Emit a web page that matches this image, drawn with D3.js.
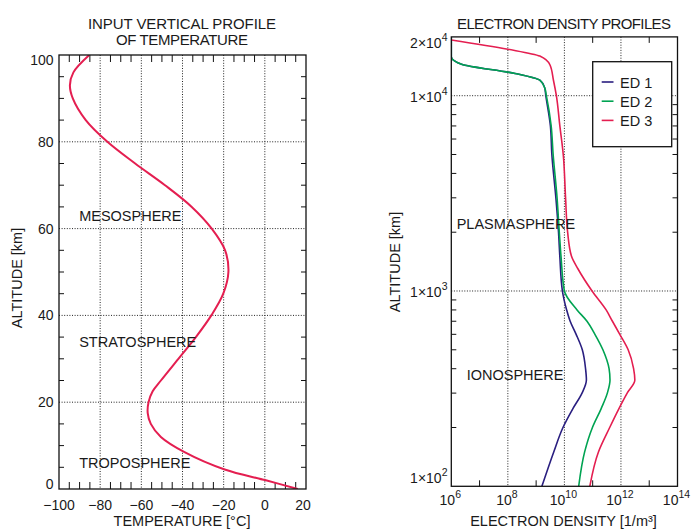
<!DOCTYPE html>
<html><head><meta charset="utf-8">
<script src="https://cdn.jsdelivr.net/npm/d3@7"></script>
<style>
body{margin:0;background:#fff}
text{font-family:"Liberation Sans",Arial,sans-serif;fill:#1a1a1a}
</style>
</head><body>
<svg id="c" width="693" height="529"></svg>
<script>
// ---------- DATA ----------
// Left panel: temperature profile
const tempAltitudes = [0,2,4.5,8.5,12,15,17.5,20,22.5,25,30,35,40,45,50,55,60,65,70,75,80,85,90,93,96,100];
const temperatures  = [16,0.5,-19.5,-39,-50.5,-55.4,-56.9,-56.5,-54.5,-50.5,-42,-33.5,-26,-20.2,-17.7,-19.3,-25.8,-35.5,-48.5,-63,-76.5,-87,-93.3,-94.7,-93,-85.3];
const tempXTicks = [-100,-80,-60,-40,-20,0,20];
const tempYTicks = [0,20,40,60,80,100];
const layerNames = ["MESOSPHERE","STRATOSPHERE","TROPOSPHERE"];
const layerAlt   = [61.8,32.7,4.8];

// Right panel: electron density profiles (altitude km, density 1/m^3)
const edAltitudes = [100,150,200,250,300,350,400,500,600,700,800,1000,1500,2000,3000,5000,7000,10000,11000,12000,13000,14500,15850,20000];
const ed1 = [1.6e9,4.2e9,8.9e9,2.0e10,4.2e10,6.0e10,5.6e10,4.3e10,2.6e10,1.6e10,1.2e10,8.5e9,6.9e9,6.2e9,5.0e9,3.6e9,3.2e9,2.2e9,2.0e9,1.35e9,1.8e8,2.3e6,1e6,1e6];
const ed2 = [3.2e10,5.2e10,9.8e10,2.0e11,3.3e11,4.1e11,3.8e11,2.3e11,1.2e11,6.3e10,2.8e10,1.0e10,7.6e9,6.6e9,5.5e9,4.0e9,3.4e9,2.3e9,2.0e9,1.35e9,1.8e8,2.3e6,1e6,1e6];
const ed3Altitudes = [100,150,200,250,300,350,400,500,600,700,800,1000,1300,1500,2000,3000,5000,7000,10000,12000,14360,15950,17300,19300];
const ed3 = [7.9e10,1.6e11,4.0e11,8.5e11,1.66e12,3.1e12,2.8e12,1.8e12,9.1e11,5.0e11,3.0e11,9.5e10,3.0e10,1.8e10,1.3e10,1.1e10,9.1e9,6.9e9,5.2e9,4.1e9,3.1e9,1.35e9,1.0e8,1e6];
const seriesNames = ["ED 1","ED 2","ED 3"];
const seriesColors = ["#2a1f80","#00a352","#e41e50"];
const edXTicks = [1e6,1e8,1e10,1e12,1e14];
const edXTickExp = ["6","8","10","12","14"];
const edYTicks = [100,1000,10000,20000];
const edYTickLabels = [["1×10","2"],["1×10","3"],["1×10","4"],["2×10","4"]];
const regionNames = ["PLASMASPHERE","IONOSPHERE"];
const regionAlt = [2080,350];
const regionDensity = [1.55e6,3.5e6];

// ---------- DRAW ----------
const svg = d3.select("#c");
const L = {x0:59,x1:306,y0:55,y1:489};
const R = {x0:451.3,x1:677.5,y0:36.9,y1:486.3};

const tx = d3.scaleLinear().domain([-100,20]).range([L.x0,L.x1]);
const ty = d3.scaleLinear().domain([0,100]).range([L.y1,L.y0]);
const ex = d3.scaleLog().domain([1e6,1e14]).range([R.x0,R.x1]);
const ey = d3.scaleLog().domain([100,20000]).range([R.y1,R.y0]);

const grid = {stroke:"#222","stroke-width":1,"stroke-dasharray":"1,1.6"};
function attrs(sel,o){for(const k in o) sel.attr(k,o[k]); return sel;}

// ----- Titles -----
svg.append("text").attr("x",182).attr("y",29).attr("text-anchor","middle").attr("font-size",15)
  .attr("textLength",188).attr("lengthAdjust","spacing").text("INPUT VERTICAL PROFILE");
svg.append("text").attr("x",182).attr("y",45).attr("text-anchor","middle").attr("font-size",15)
  .attr("textLength",132).attr("lengthAdjust","spacing").text("OF TEMPERATURE");
svg.append("text").attr("x",564).attr("y",29).attr("text-anchor","middle").attr("font-size",15)
  .attr("textLength",214).attr("lengthAdjust","spacing").text("ELECTRON DENSITY PROFILES");

// ----- Left panel -----
const gl = svg.append("g");
tempXTicks.filter(v=>v>-100&&v<20).forEach(v=>{
  attrs(gl.append("line").attr("x1",tx(v)).attr("x2",tx(v)).attr("y1",L.y0).attr("y2",L.y1),grid);
});
tempYTicks.filter(v=>v>0&&v<100).forEach(v=>{
  attrs(gl.append("line").attr("x1",L.x0).attr("x2",L.x1).attr("y1",ty(v)).attr("y2",ty(v)),grid);
});
d3.range(-95,20,5).filter(v=>v%20!==0).forEach(v=>{
  gl.append("line").attr("x1",tx(v)).attr("x2",tx(v)).attr("y1",L.y1).attr("y2",L.y1-7).attr("stroke","#111");
  gl.append("line").attr("x1",tx(v)).attr("x2",tx(v)).attr("y1",L.y0).attr("y2",L.y0+7).attr("stroke","#111");
});
d3.range(5,100,5).filter(v=>v%20!==0).forEach(v=>{
  gl.append("line").attr("x1",L.x0).attr("x2",L.x0+5).attr("y1",ty(v)).attr("y2",ty(v)).attr("stroke","#111");
  gl.append("line").attr("x1",L.x1).attr("x2",L.x1-5).attr("y1",ty(v)).attr("y2",ty(v)).attr("stroke","#111");
});
svg.append("clipPath").attr("id","clipL").append("rect").attr("x",L.x0).attr("y",L.y0).attr("width",L.x1-L.x0).attr("height",L.y1-L.y0);
const tempData = tempAltitudes.map((a,i)=>({a,t:temperatures[i]}));
gl.append("path").datum(tempData).attr("clip-path","url(#clipL)")
  .attr("d",d3.line().x(d=>tx(d.t)).y(d=>ty(d.a)).curve(d3.curveCatmullRom.alpha(0.5)))
  .attr("fill","none").attr("stroke","#e41e50").attr("stroke-width",2);
gl.append("rect").attr("x",L.x0).attr("y",L.y0).attr("width",L.x1-L.x0).attr("height",L.y1-L.y0)
  .attr("fill","none").attr("stroke","#111").attr("stroke-width",1.3);
tempXTicks.forEach(v=>{
  gl.append("text").attr("x",tx(v)-(v===20?3:0)).attr("y",510).attr("text-anchor","middle").attr("font-size",14)
    .text(v<0?"−"+Math.abs(v):String(v));
});
tempYTicks.forEach(v=>{
  let y = ty(v)+5;
  if(v===0) y = ty(v)-0.5;
  if(v===100) y = ty(v)+10;
  gl.append("text").attr("x",53.5).attr("y",y).attr("text-anchor","end").attr("font-size",14).text(String(v));
});
gl.append("text").attr("x",182).attr("y",525.5).attr("text-anchor","middle").attr("font-size",14.5).text("TEMPERATURE [°C]");
gl.append("text").attr("transform","translate(22,278) rotate(-90)").attr("text-anchor","middle").attr("font-size",14.5).text("ALTITUDE [km]");
layerNames.forEach((n,i)=>{
  gl.append("text").attr("x",tx(-90.2)).attr("y",ty(layerAlt[i])).attr("font-size",14.5).text(n);
});

// ----- Right panel -----
const gr = svg.append("g");
edXTicks.filter(v=>v>1e6&&v<1e14).forEach(v=>{
  attrs(gr.append("line").attr("x1",ex(v)).attr("x2",ex(v)).attr("y1",R.y0).attr("y2",R.y1),grid);
});
[1000,10000].forEach(v=>{
  attrs(gr.append("line").attr("x1",R.x0).attr("x2",R.x1).attr("y1",ey(v)).attr("y2",ey(v)),grid);
});
[1e7,1e9,1e11,1e13].forEach(v=>{
  gr.append("line").attr("x1",ex(v)).attr("x2",ex(v)).attr("y1",R.y1).attr("y2",R.y1-6).attr("stroke","#111");
  gr.append("line").attr("x1",ex(v)).attr("x2",ex(v)).attr("y1",R.y0).attr("y2",R.y0+6).attr("stroke","#111");
});
const minorY = [];
[100,1000].forEach(d=>{for(let m=2;m<=9;m++) minorY.push(m*d);});
minorY.forEach(v=>{
  gr.append("line").attr("x1",R.x0).attr("x2",R.x0+5).attr("y1",ey(v)).attr("y2",ey(v)).attr("stroke","#111");
  gr.append("line").attr("x1",R.x1).attr("x2",R.x1-5).attr("y1",ey(v)).attr("y2",ey(v)).attr("stroke","#111");
});
svg.append("clipPath").attr("id","clipR").append("rect").attr("x",R.x0).attr("y",R.y0).attr("width",R.x1-R.x0).attr("height",R.y1-R.y0);
const edLine = d3.line().x(d=>ex(d.n)).y(d=>ey(d.a)).curve(d3.curveMonotoneY);
const series = [
  edAltitudes.map((a,i)=>({a,n:ed1[i]})),
  edAltitudes.map((a,i)=>({a,n:ed2[i]})),
  ed3Altitudes.map((a,i)=>({a,n:ed3[i]}))
];
series.forEach((s,i)=>{
  gr.append("path").datum(s).attr("clip-path","url(#clipR)").attr("d",edLine)
    .attr("fill","none").attr("stroke",seriesColors[i]).attr("stroke-width",1.6);
});
gr.append("rect").attr("x",R.x0).attr("y",R.y0).attr("width",R.x1-R.x0).attr("height",R.y1-R.y0)
  .attr("fill","none").attr("stroke","#111").attr("stroke-width",1.3);
edXTicks.forEach((v,i)=>{
  const t = gr.append("text").attr("x",ex(v)-1).attr("y",505).attr("text-anchor","middle").attr("font-size",14);
  t.append("tspan").text("10");
  t.append("tspan").attr("dy",-7).attr("font-size",10.5).text(edXTickExp[i]);
});
edYTicks.forEach((v,i)=>{
  let y = ey(v)+6;
  if(v===100) y = ey(v)-3;
  if(v===20000) y = ey(v)+11;
  const t = gr.append("text").attr("x",447.5).attr("y",y).attr("text-anchor","end").attr("font-size",14);
  t.append("tspan").text(edYTickLabels[i][0]);
  t.append("tspan").attr("dy",-7).attr("font-size",10.5).text(edYTickLabels[i][1]);
});
gr.append("text").attr("x",563.5).attr("y",525.5).attr("text-anchor","middle").attr("font-size",14.5).text("ELECTRON DENSITY [1/m³]");
gr.append("text").attr("transform","translate(400,262) rotate(-90)").attr("text-anchor","middle").attr("font-size",14.5).text("ALTITUDE [km]");
regionNames.forEach((n,i)=>{
  gr.append("text").attr("x",ex(regionDensity[i])).attr("y",ey(regionAlt[i])).attr("font-size",14.5).text(n);
});
const lg = gr.append("g");
lg.append("rect").attr("x",592.7).attr("y",61.7).attr("width",79).attr("height",85).attr("fill","#fff").attr("stroke","#111").attr("stroke-width",1.3);
seriesNames.forEach((n,i)=>{
  const yy = 82 + i*19.2;
  lg.append("line").attr("x1",601.7).attr("x2",613.5).attr("y1",yy).attr("y2",yy).attr("stroke",seriesColors[i]).attr("stroke-width",1.6);
  lg.append("text").attr("x",620).attr("y",yy+6).attr("font-size",14.5).text(n);
});
</script>
</body></html>
